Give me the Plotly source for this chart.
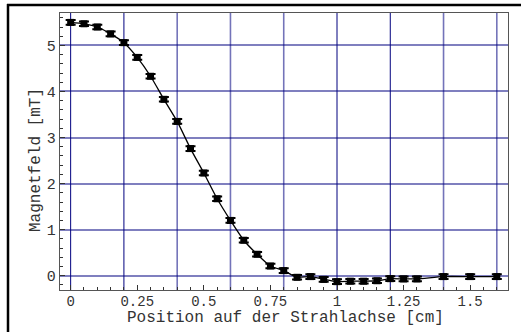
import plotly.graph_objects as go

# Data
position_cm = [0.0, 0.05, 0.10, 0.15, 0.20, 0.25, 0.30, 0.35, 0.40, 0.45,
               0.50, 0.55, 0.60, 0.65, 0.70, 0.75, 0.80, 0.85, 0.90, 0.95,
               1.00, 1.05, 1.10, 1.15, 1.20, 1.25, 1.30, 1.40, 1.50, 1.60]
field_mT = [5.50, 5.47, 5.40, 5.25, 5.06, 4.74, 4.33, 3.83, 3.35, 2.76,
            2.23, 1.67, 1.20, 0.77, 0.465, 0.21, 0.11, -0.035, -0.02, -0.08,
            -0.13, -0.12, -0.12, -0.11, -0.065, -0.07, -0.07, -0.02, -0.02, -0.02]
field_err = [0.05] * len(field_mT)

x_ticks = [0, 0.25, 0.5, 0.75, 1.0, 1.25, 1.5]
x_ticklabels = ["0", "0.25", "0.5", "0.75", "1", "1.25", "1.5"]
y_ticks = [0, 1, 2, 3, 4, 5]
x_grid = [0, 0.2, 0.4, 0.6, 0.8, 1.0, 1.2, 1.4, 1.6]
x_grid_dark = [0, 0.2, 1.0, 1.2]

x_title = "Position auf der Strahlachse [cm]"
y_title = "Magnetfeld [mT]"

W, H = 521, 332
L, R, T, B = 60, 508, 13, 290

FONT = "Liberation Mono, Courier New, monospace"


def px_to_paper_x(px):
    return (px - L) / (R - L)


def px_to_paper_y(py):
    return (B - py) / (B - T)


fig = go.Figure()
fig.add_trace(go.Scatter(
    x=position_cm, y=field_mT,
    mode="lines+markers",
    line=dict(color="black", width=1.3, shape="spline", smoothing=0.6),
    marker=dict(symbol="square", size=7, color="black"),
    error_y=dict(type="data", array=field_err, color="black", thickness=2, width=5),
    showlegend=False,
))

shapes = []
for gx in x_grid:
    dark = gx in x_grid_dark
    shapes.append(dict(type="line", xref="x", yref="paper", x0=gx, x1=gx, y0=0, y1=1,
                       line=dict(color="#00007f" if dark else "rgba(0,0,128,0.55)",
                                 width=1 if dark else 1.6),
                       layer="below"))

# outer frame (top and left edges visible)
shapes.append(dict(type="line", xref="paper", yref="paper",
                   x0=px_to_paper_x(7), x1=px_to_paper_x(521),
                   y0=px_to_paper_y(5), y1=px_to_paper_y(5),
                   line=dict(color="black", width=2.5)))
shapes.append(dict(type="line", xref="paper", yref="paper",
                   x0=px_to_paper_x(8), x1=px_to_paper_x(8),
                   y0=px_to_paper_y(4), y1=px_to_paper_y(332),
                   line=dict(color="black", width=2.5)))

annotations = [
    dict(text=x_title, xref="paper", yref="paper",
         x=px_to_paper_x(285), y=px_to_paper_y(318),
         xanchor="center", yanchor="middle", showarrow=False,
         font=dict(family=FONT, size=16, color="#333")),
    dict(text=y_title, xref="paper", yref="paper",
         x=px_to_paper_x(36), y=px_to_paper_y(160),
         xanchor="center", yanchor="middle", showarrow=False, textangle=-90,
         font=dict(family=FONT, size=16, color="#333")),
]

fig.update_layout(
    width=W, height=H,
    margin=dict(l=L, r=W - R, t=T, b=H - B, autoexpand=False),
    paper_bgcolor="white", plot_bgcolor="white",
    font=dict(family=FONT, size=14, color="#333"),
    shapes=shapes,
    annotations=annotations,
    xaxis=dict(
        range=[-0.04, 1.642],
        tickvals=x_ticks, ticktext=x_ticklabels,
        ticks="inside", ticklen=5, tickcolor="#333", tickwidth=1,
        minor=dict(ticks="inside", dtick=0.05, tick0=0, ticklen=3, tickcolor="#333", showgrid=False),
        showgrid=False, zeroline=False,
        showline=True, linecolor="#555", linewidth=1.3, mirror=True,
        tickfont=dict(family=FONT, size=14, color="#333"),
        ticklabelstandoff=-2,
        automargin=False,
    ),
    yaxis=dict(
        range=[-0.311, 5.704],
        tickvals=y_ticks,
        ticks="inside", ticklen=5, tickcolor="#333", tickwidth=1,
        minor=dict(ticks="inside", dtick=0.2, tick0=0, ticklen=3, tickcolor="#333", showgrid=False),
        showgrid=True, gridcolor="rgba(0,0,128,0.5)", gridwidth=1.6,
        zeroline=False,
        showline=True, linecolor="#555", linewidth=1.3, mirror=True,
        tickfont=dict(family=FONT, size=15, color="#333"),
        automargin=False,
    ),
)

fig.write_html("out.html",
               config={"displayModeBar": False},
               post_script="document.body.style.margin='0';document.body.style.overflow='hidden';")
